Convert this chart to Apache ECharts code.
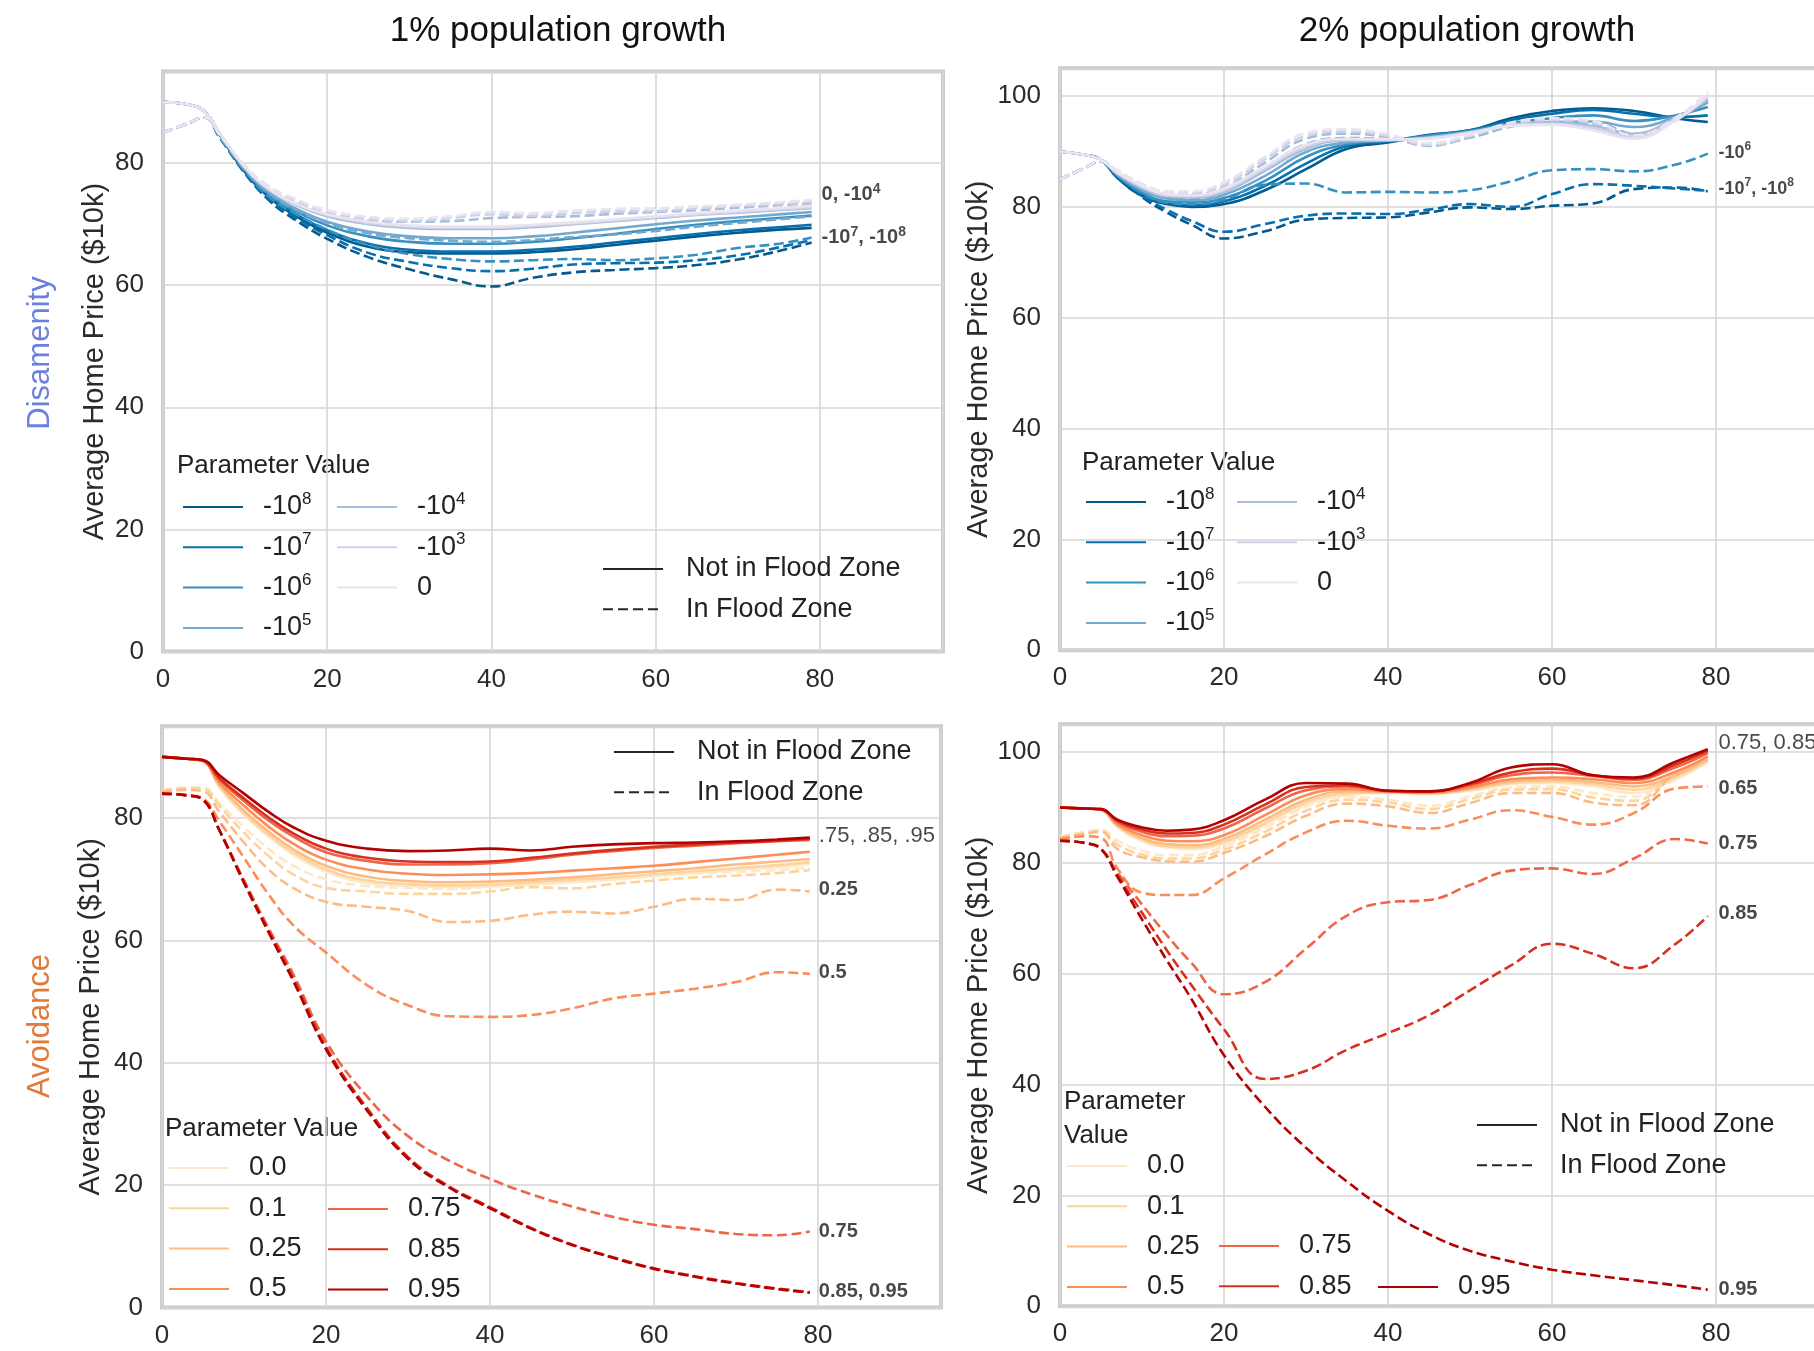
<!DOCTYPE html>
<html><head><meta charset="utf-8">
<script src="https://cdn.jsdelivr.net/npm/echarts@6/dist/echarts.min.js"></script>
<style>html,body{margin:0;padding:0;background:#fff}#c{width:1814px;height:1351px}</style>
</head><body><div id="c"></div>
<script>
// ---------------- DATA ----------------
const X = [0,3,5,7,10,13,16,20,25,30,35,40,45,50,55,60,65,70,75,79];
const X_TICKS = [0,20,40,60,80];
const Y_TICKS = [0,20,40,60,80,100];

const DIS_PARAMS = ['-10^8','-10^7','-10^6','-10^5','-10^4','-10^3','0'];
const AVO_PARAMS = ['0.0','0.1','0.25','0.5','0.75','0.85','0.95'];

// Disamenity, 1% growth (top-left)
const tl_s_m8 = [90,89.6,88.5,84.5,78.5,74.3,71.5,68.6,66.3,65.4,65.2,65.2,65.4,65.9,66.6,67.3,68,68.6,69.1,69.4];
const tl_s_m7 = [90,89.6,88.5,84.5,78.6,74.5,71.8,69,66.8,65.8,65.5,65.5,65.8,66.3,67,67.7,68.4,69,69.5,69.9];
const tl_s_m6 = [90,89.6,88.5,84.6,78.8,74.8,72.3,69.8,68,67.1,66.8,66.8,67.1,67.7,68.4,69.2,69.9,70.5,71,71.4];
const tl_s_m5 = [90,89.6,88.5,84.6,79,75.1,72.7,70.4,68.8,68,67.7,67.7,68,68.6,69.3,70,70.6,71.1,71.6,72];
const tl_s_m4 = [90,89.6,88.5,84.7,79.2,75.5,73.3,71.3,70,69.4,69.2,69.2,69.5,70,70.5,71,71.5,71.9,72.3,72.6];
const tl_s_m3 = [90,89.6,88.5,84.7,79.3,75.6,73.4,71.5,70.2,69.6,69.4,69.4,69.7,70.1,70.6,71.1,71.6,72,72.4,72.8];
const tl_s_0  = [90,89.6,88.5,84.7,79.3,75.7,73.5,71.6,70.4,69.8,69.6,69.6,69.9,70.3,70.8,71.3,71.8,72.2,72.6,73];
const tl_d_m8 = [85,86.5,87.5,84,78.3,73.8,70.8,67.6,64.6,62.6,61,59.8,61.2,62.1,62.5,62.8,63.3,64.2,65.6,67];
const tl_d_m7 = [85,86.5,87.5,84,78.4,74,71.2,68.2,65.3,63.8,62.8,62.3,62.7,63.4,63.6,63.7,64.1,64.9,66.2,67.4];
const tl_d_m6 = [85,86.5,87.5,84.1,78.6,74.4,71.8,69.1,66.6,65.1,64.3,63.9,64.1,64.3,64.1,64.4,65,66.1,66.8,67.8];
const tl_d_m5 = [85,86.5,87.5,84.2,78.9,75,72.5,70.2,68.5,67.7,67.3,67.1,67.4,67.9,68.3,68.9,69.6,70.2,70.8,71.3];
const tl_d_m4 = [85,86.5,87.5,84.4,79.3,75.7,73.6,71.6,70.6,70.4,70.5,71,71.2,71.3,71.7,72,72.3,72.7,73.1,73.4];
const tl_d_m3 = [85,86.5,87.5,84.5,79.5,76,74,72,70.9,70.5,71,71.6,71.4,71.8,72.1,72.2,72.6,73,73.3,73.7];
const tl_d_0  = [85,86.5,87.5,84.5,79.6,76.2,74.2,72.3,71.2,70.9,71.3,72,71.8,72.2,72.5,72.6,72.9,73.2,73.6,74];

// Disamenity, 2% growth (top-right)
const tr_s_m8 = [90,89.4,88.5,85.2,82,80.5,80,80.5,83,86.8,90.5,91.6,92.9,93.8,96,97.3,97.8,97.3,96,95.3];
const tr_s_m7 = [90,89.4,88.5,85.4,82.2,80.7,80.3,81,83.8,87.8,91,91.8,93,93.8,95.6,96.8,97.5,96.8,96.2,96.5];
const tr_s_m6 = [90,89.4,88.5,85.6,82.6,81,80.8,81.6,84.7,89,91.3,92,92.8,93.7,95.1,96,96.5,95.5,96.5,98];
const tr_s_m5 = [90,89.4,88.5,85.8,83,81.5,81.2,82.2,85.6,89.9,91.6,92,92.6,93.5,94.8,95.3,95.4,94.4,96.2,98.8];
const tr_s_m4 = [90,89.4,88.5,86,83.4,81.9,81.7,82.7,86.5,90.5,92,92,92.5,93.5,94.8,95.2,94.6,93.2,96,99.4];
const tr_s_m3 = [90,89.4,88.5,86.1,83.6,82.1,81.9,83,86.9,90.8,92.1,92.1,92.4,93.4,94.7,95,94.2,92.7,95.8,99.8];
const tr_s_0  = [90,89.4,88.5,86.2,83.8,82.3,82.1,83.3,87.3,91.2,92.3,92.2,92.3,93.3,94.6,94.8,93.8,92.3,95.5,100.2];
const tr_d_m8 = [85,87,88.3,85.5,81.8,79,76.8,74.3,75.6,77.7,78,78.1,79,79.9,79.6,80.2,80.6,83.2,83.5,82.8];
const tr_d_m7 = [85,87,88.3,85.5,82,79.5,77.5,75.5,76.9,78.4,78.8,78.7,79.5,80.5,80,82.3,84.1,83.8,83.3,82.9];
const tr_d_m6 = [85,87,88.3,85.7,82.5,80.8,80.5,81.3,84,84.2,82.6,82.7,82.6,83,84.6,86.6,86.8,86.4,87.6,89.6];
const tr_d_m5 = [85,87,88.3,86,83.3,81.8,81.6,82.8,87,91.3,92.4,92.2,91.3,92.5,94.5,95.3,95.3,93.2,95.8,99];
const tr_d_m4 = [85,87,88.3,86.3,83.8,82.3,82.2,83.5,88,92.3,93.2,92.6,91,92.6,94.6,95.4,95,92.6,95.5,99.8];
const tr_d_m3 = [85,87,88.3,86.5,84,82.6,82.5,84,88.6,92.8,93.6,92.8,91.2,92.8,94.9,95.7,95.2,92.5,95.7,100.3];
const tr_d_0  = [85,87,88.3,86.6,84.2,82.8,82.8,84.4,89,93.3,94,93.1,91.5,93,95.2,96,95.5,92.9,96,100.8];

// Avoidance, 1% growth (bottom-left)
const bl_s_00  = [90,89.7,89.3,85,80.5,77,74,71.2,69.4,68.9,68.7,68.8,69.1,69.5,70,70.5,71,71.5,72,72.5];
const bl_s_01  = [90,89.7,89.3,85.2,80.8,77.3,74.4,71.6,69.8,69.2,69,69.1,69.5,69.9,70.3,70.8,71.3,71.8,72.3,72.8];
const bl_s_025 = [90,89.7,89.3,85.4,81.2,77.8,74.9,72.2,70.4,69.7,69.5,69.6,69.9,70.3,70.8,71.3,71.8,72.4,72.9,73.3];
const bl_s_05  = [90,89.7,89.3,85.8,82,78.6,75.8,73.2,71.6,70.9,70.7,70.8,71,71.4,71.8,72.2,72.8,73.4,74,74.5];
const bl_s_075 = [90,89.7,89.4,86.3,82.8,79.6,77,74.4,73,72.4,72.4,72.6,73.2,74,74.6,75.1,75.5,75.9,76.2,76.4];
const bl_s_085 = [90,89.7,89.4,86.5,83.2,80.1,77.5,75,73.5,72.9,72.8,72.9,73.5,74.2,74.8,75.3,75.7,76,76.3,76.6];
const bl_s_095 = [90,89.7,89.5,87,84,81,78.5,76.3,75,74.6,74.7,75,74.7,75.3,75.7,75.9,76,76.2,76.5,76.8];
const bl_d_00  = [84.5,85,85,82.5,78.5,75,72.2,70,68.9,68.6,68.4,68.8,69.3,69.6,69.9,70.5,70.9,71.2,71.5,71.9];
const bl_d_01  = [84.4,84.9,84.8,82,77.6,73.8,70.8,68.6,68,67.6,67.6,68,68.7,68.5,69.2,69.8,70.3,70.6,71,71.5];
const bl_d_025 = [84.3,84.6,84.4,81,76,71.6,68.6,66.3,65.5,64.8,63,63.2,64.2,64.7,64.4,65.5,66.8,66.6,68.3,68];
const bl_d_05  = [84,83.8,83.2,79.5,73.5,67.5,62.5,58,52.7,49.4,47.6,47.5,47.8,48.9,50.5,51.3,52.1,53.2,54.8,54.5];
const bl_d_075 = [84,83.7,83,78,69.8,62,54.5,43.5,34.5,28,24,21,18.5,16.5,14.8,13.5,12.8,12,11.8,12.4];
const bl_d_085 = [84,83.7,83,78,69.6,61.6,53.8,42.6,32.6,24.6,19.8,16.4,13,10.3,8.2,6.4,5.1,4,3.1,2.5];
const bl_d_095 = [84,83.7,83,78,69.4,61.3,53.4,42.2,32.2,24.3,19.6,16.2,12.9,10.2,8.1,6.3,5,3.9,3,2.4];

// Avoidance, 2% growth (bottom-right)
const br_s_00  = [90,89.8,89.6,86.5,84,82.8,82.5,83.5,86.8,90.5,92.2,92.6,92.4,93,94.2,94.4,93.8,92.6,95,98.2];
const br_s_01  = [90,89.8,89.6,86.6,84.2,83,82.8,83.8,87.2,90.9,92.5,92.7,92.5,93.2,94.4,94.7,94.2,93.2,95.4,98.5];
const br_s_025 = [90,89.8,89.6,86.8,84.5,83.4,83.2,84.3,87.8,91.4,92.9,92.8,92.6,93.4,94.7,95,94.6,93.8,95.8,98.8];
const br_s_05  = [90,89.8,89.6,87,85,84,83.9,85,88.6,92.2,93.3,92.9,92.7,93.6,95.1,95.4,95.1,94.4,96.4,99.2];
const br_s_075 = [90,89.8,89.7,87.4,85.6,84.8,84.9,86.2,89.8,93.1,93.8,92.9,92.8,94,95.8,96.3,95.7,95,97.2,99.8];
const br_s_085 = [90,89.8,89.7,87.6,86,85.3,85.4,86.9,90.5,93.7,94,93,92.9,94.2,96.3,97,95.8,95.2,97.7,100.2];
const br_s_095 = [90,89.8,89.7,87.8,86.4,85.8,86,87.7,91.4,94.4,94.3,93,92.9,94.4,97.2,97.8,95.8,95.4,98.2,100.5];
const br_d_00  = [84.8,85.6,86,84,82.2,81.4,81.4,83,86.3,90.1,91.9,91.4,90.3,92,93.6,93.8,92.6,91.9,96.4,98.7];
const br_d_01  = [84.6,85.4,85.8,83.3,81.5,80.8,80.8,82.4,85.6,89.4,91.4,90.9,89.7,91.5,93.2,93.3,91.8,91.2,96.2,98.6];
const br_d_025 = [84.4,85.2,85.6,82.5,81,80.3,80.2,81.8,84.8,88.5,90.7,90.2,89,90.8,92.6,92.6,90.9,90.4,96,98.5];
const br_d_05  = [84.3,84.8,84.5,79,74.6,74.2,74.2,77.2,81.5,85.5,87.6,86.7,86.2,87.8,89.5,88.3,86.9,89,93.4,93.8];
const br_d_075 = [84,83.6,82.5,78.3,72.5,67,62,56.3,58.5,64.5,70.5,72.9,73.3,76,78.6,79,78,80.8,84.3,83.5];
const br_d_085 = [84,83.6,82.5,77.8,71,64.3,58,50,41,42.5,46.3,49.3,52.5,57,61.5,65.4,63.6,61,65.3,70.4];
const br_d_095 = [84,83.6,82.5,77.5,69.8,62.5,55.5,45.3,36,28.6,22.5,17.2,13,10,8.1,6.6,5.6,4.7,3.8,3];

// line-end annotations: [x, y, text, bold]
const TL_NOTES = [[79.9,74.9,'0, -10^4',1],[79.9,67.9,'-10^7, -10^8',1]];
const TR_NOTES = [[80,89.7,'-10^6',1],[80,83.2,'-10^7, -10^8',1]];
const BL_NOTES = [[79.8,77,'.75, .85, .95',0],[79.8,68.4,'0.25',1],[79.8,54.8,'0.5',1],[79.8,12.4,'0.75',1],[79.8,2.6,'0.85, 0.95',1]];
const BR_NOTES = [[80,101.6,'0.75, 0.85',0],[80,93.4,'0.65',1],[80,83.5,'0.75',1],[80,70.8,'0.85',1],[80,3.1,'0.95',1]];

// ---------------- STYLE / LAYOUT ----------------
const FONT = "'Liberation Sans', Arial, Helvetica, sans-serif";
const BLUES = ['#045a8d','#0570b0','#3690c0','#74a9cf','#a6bddb','#d0d1e6','#e9e4f1'];
const ORRDS = ['#fee8c8','#fdd49e','#fdbb84','#fc8d59','#ef6548','#d7301f','#b30000'];

const PANELS = [
  {key:'tl', params:DIS_PARAMS, colors:BLUES, notes:TL_NOTES, flood:true,
   solid:[tl_s_m8,tl_s_m7,tl_s_m6,tl_s_m5,tl_s_m4,tl_s_m3,tl_s_0],
   dashed:[tl_d_m8,tl_d_m7,tl_d_m6,tl_d_m5,tl_d_m4,tl_d_m3,tl_d_0],
   grid:{left:163, top:71.6, width:780, height:579.8}, ymax:95, nameGap:54, noteSize:20},
  {key:'tr', params:DIS_PARAMS, colors:BLUES, notes:TR_NOTES, flood:false,
   solid:[tr_s_m8,tr_s_m7,tr_s_m6,tr_s_m5,tr_s_m4,tr_s_m3,tr_s_0],
   dashed:[tr_d_m8,tr_d_m7,tr_d_m6,tr_d_m5,tr_d_m4,tr_d_m3,tr_d_0],
   grid:{left:1060, top:68.3, width:779, height:581.9}, ymax:105, nameGap:66, noteSize:18},
  {key:'bl', params:AVO_PARAMS, colors:ORRDS, notes:BL_NOTES, flood:true,
   solid:[bl_s_00,bl_s_01,bl_s_025,bl_s_05,bl_s_075,bl_s_085,bl_s_095],
   dashed:[bl_d_00,bl_d_01,bl_d_025,bl_d_05,bl_d_075,bl_d_085,bl_d_095],
   grid:{left:162, top:726.3, width:779, height:581.1}, ymax:95, nameGap:57, noteSize:20},
  {key:'br', params:AVO_PARAMS, colors:ORRDS, notes:BR_NOTES, flood:true,
   solid:[br_s_00,br_s_01,br_s_025,br_s_05,br_s_075,br_s_085,br_s_095],
   dashed:[br_d_00,br_d_01,br_d_025,br_d_05,br_d_075,br_d_085,br_d_095],
   grid:{left:1060, top:724.3, width:779, height:582}, ymax:105, nameGap:58, noteSize:20}
];

const fmtSup = s => s.replace(/\^(\d+)/g, '{s|$1}');
const LW = 2.6, DASH = [10, 4.5], SMOOTH = 0.45;

const grids = [], xAxes = [], yAxes = [], series = [];
PANELS.forEach((p, gi) => {
  grids.push(Object.assign({show:true, borderColor:'#cbcbcb', borderWidth:4, backgroundColor:'#fff',
    outerBoundsMode:'none', containLabel:false}, p.grid));
  xAxes.push({type:'value', gridIndex:gi, min:0, max:95, interval:20,
    axisLine:{show:false}, axisTick:{show:false},
    splitLine:{show:true, lineStyle:{color:'#d6d6d6', width:1.6}},
    axisLabel:{fontSize:26, color:'#2b2b2b', fontFamily:FONT, margin:15,
      formatter: v => X_TICKS.includes(v) ? String(v) : ''}});
  yAxes.push({type:'value', gridIndex:gi, min:0, max:p.ymax, interval:20,
    axisLine:{show:false}, axisTick:{show:false},
    splitLine:{show:true, lineStyle:{color:'#d6d6d6', width:1.6}},
    axisLabel:{fontSize:26, color:'#2b2b2b', fontFamily:FONT, margin:19,
      formatter: v => Y_TICKS.includes(v) ? String(v) : ''},
    name:'Average Home Price ($10k)', nameLocation:'middle', nameGap:p.nameGap,
    nameTextStyle:{fontSize:29, color:'#2b2b2b', fontFamily:FONT}});
  p.params.forEach((par, i) => {
    const col = p.colors[i];
    series.push({name:`${p.key}|${par}`, type:'line', xAxisIndex:gi, yAxisIndex:gi,
      data:X.map((x, j) => [x, p.solid[i][j]]), symbol:'none', smooth:SMOOTH,
      silent:true, lineStyle:{color:col, width:LW}, itemStyle:{color:col}});
    series.push({name:`${p.key}|${par}|dashed`, type:'line', xAxisIndex:gi, yAxisIndex:gi,
      data:X.map((x, j) => [x, p.dashed[i][j]]), symbol:'none', smooth:SMOOTH,
      silent:true, lineStyle:{color:col, width:LW, type:DASH}, itemStyle:{color:col}});
  });
  if (p.flood) {
    series.push({name:`${p.key}|Not in Flood Zone`, type:'line', xAxisIndex:gi, yAxisIndex:gi, data:[],
      symbol:'none', lineStyle:{color:'#262626', width:2.2}, itemStyle:{color:'#262626'}});
    series.push({name:`${p.key}|In Flood Zone`, type:'line', xAxisIndex:gi, yAxisIndex:gi, data:[],
      symbol:'none', lineStyle:{color:'#262626', width:2.2, type:[10,5]}, itemStyle:{color:'#262626'}});
  }
  series.push({type:'scatter', xAxisIndex:gi, yAxisIndex:gi, silent:true, symbolSize:1, z:10,
    itemStyle:{color:'rgba(0,0,0,0)'},
    data:p.notes.map(n => ({name:n[2], value:[n[0], n[1]], bold:n[3]})),
    label:{show:true, position:'right', distance:2,
      formatter: d => d.data.bold ? '{b|' + fmtSup(d.name).replace(/\{s\|(\d+)\}/g, '}{s|$1}{b|') + '}' : fmtSup(d.name),
      color:'#1a1a1a', fontFamily:FONT, fontSize:p.noteSize + 2,
      rich:{
        b:{fontSize:p.noteSize, fontWeight:'bold', fontFamily:FONT, color:'#1a1a1a', lineHeight:24},
        s:{fontSize:p.noteSize - 6, fontWeight:'bold', fontFamily:FONT, color:'#1a1a1a', verticalAlign:'top', lineHeight:14}
      }}});
});

const legendText = {fontSize:27, color:'#222', fontFamily:FONT, lineHeight:32, padding:[0,0,0,15],
  rich:{s:{fontSize:17, fontFamily:FONT, color:'#222', verticalAlign:'top', lineHeight:18}}};
const LEGEND_BASE = {orient:'vertical', padding:0, itemGap:8.3, itemWidth:60, itemHeight:14,
  selectedMode:false, itemStyle:{opacity:0, borderWidth:0}};
function paramLegend(key, params, idxs, left, rowCenter) {
  return Object.assign({}, LEGEND_BASE, {left:left, top:rowCenter - 16, textStyle:legendText,
    data:idxs.map(i => `${key}|${params[i]}`),
    formatter: name => fmtSup(name.split('|')[1])});
}
function floodLegend(key, left, rowCenter) {
  return Object.assign({}, LEGEND_BASE, {left:left, top:rowCenter - 16,
    textStyle:Object.assign({}, legendText, {padding:[0,0,0,18]}),
    data:[`${key}|Not in Flood Zone`, `${key}|In Flood Zone`],
    formatter: name => name.split('|')[1]});
}
const legends = [
  paramLegend('tl', DIS_PARAMS, [0,1,2,3], 182, 507),
  paramLegend('tl', DIS_PARAMS, [4,5,6], 336, 507),
  floodLegend('tl', 602, 569),
  paramLegend('tr', DIS_PARAMS, [0,1,2,3], 1085, 502),
  paramLegend('tr', DIS_PARAMS, [4,5,6], 1236, 502),
  floodLegend('bl', 613, 752),
  paramLegend('bl', AVO_PARAMS, [0,1,2,3], 168, 1168),
  paramLegend('bl', AVO_PARAMS, [4,5,6], 327, 1209),
  paramLegend('br', AVO_PARAMS, [0,1,2,3], 1066, 1166),
  paramLegend('br', AVO_PARAMS, [4,5], 1218, 1246),
  paramLegend('br', AVO_PARAMS, [6], 1377, 1287),
  floodLegend('br', 1476, 1125)
];

const txt = (x, y, text, size, color, align, rot) => ({type:'text', x:x, y:y, rotation:rot || 0, silent:true,
  style:{text:text, fontSize:size, fontFamily:FONT, fill:color, align:align || 'left', verticalAlign:'middle'}});
const graphics = [
  txt(558, 31, '1% population growth', 35, '#111', 'center'),
  txt(1467, 31, '2% population growth', 35, '#111', 'center'),
  txt(40, 353, 'Disamenity', 31, '#6b7fdc', 'center', Math.PI/2),
  txt(40, 1026, 'Avoidance', 31, '#e0793a', 'center', Math.PI/2),
  txt(177, 466, 'Parameter Value', 26, '#222'),
  txt(1082, 463, 'Parameter Value', 26, '#222'),
  txt(165, 1129, 'Parameter Value', 26, '#222'),
  txt(1064, 1102, 'Parameter', 26, '#222'),
  txt(1064, 1136, 'Value', 26, '#222')
];

const chart = echarts.init(document.getElementById('c'), null, {renderer:'canvas'});
chart.setOption({
  animation:false, backgroundColor:'#fff',
  grid:grids, xAxis:xAxes, yAxis:yAxes, series:series, legend:legends, graphic:graphics
});
</script></body></html>
